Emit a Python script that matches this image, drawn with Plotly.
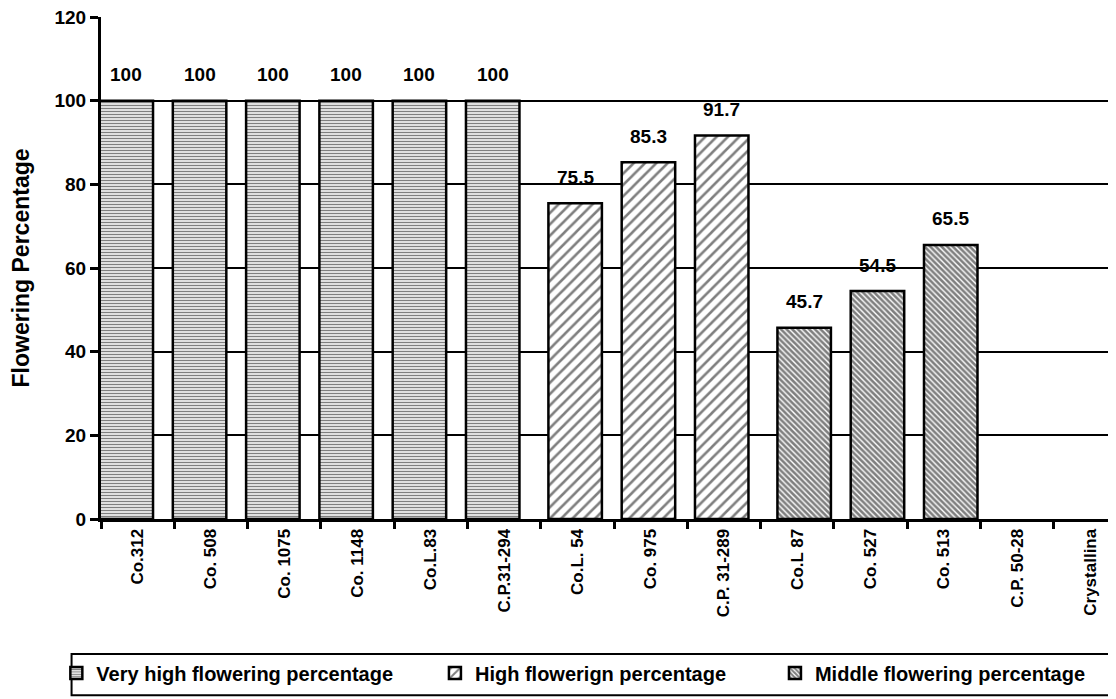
import plotly.graph_objects as go

# ---------------- data ----------------
categories = ["Co.312", "Co. 508", "Co. 1075", "Co. 1148", "Co.L.83", "C.P.31-294",
              "Co.L. 54", "Co. 975", "C.P. 31-289", "Co.L 87", "Co. 527", "Co. 513",
              "C.P. 50-28", "Crystallina"]

very_high = [100, 100, 100, 100, 100, 100, None, None, None, None, None, None, None, None]
high = [None, None, None, None, None, None, 75.5, 85.3, 91.7, None, None, None, None, None]
middle = [None, None, None, None, None, None, None, None, None, 45.7, 54.5, 65.5, None, None]

series_names = ["Very high flowering percentage", "High flowerign percentage",
                "Middle flowering percentage"]
y_ticks = [0, 20, 40, 60, 80, 100, 120]
grid_vals = [20, 40, 60, 80, 100]

# ---------------- style ----------------
FONT = "Liberation Sans, Arial, sans-serif"
series_vals = [very_high, high, middle]
offsets = [-0.52, -0.395, -0.27]
bar_w = 0.73
patterns = [
    dict(shape="-", size=3, solidity=0.5, fgcolor="black", bgcolor="white"),
    dict(shape="/", size=8, solidity=0.32, fgcolor="black", bgcolor="white"),
    dict(shape="\\", size=4, solidity=0.65, fgcolor="black", bgcolor="white"),
]
legend_keys = ["legend", "legend2", "legend3"]

fig = go.Figure()
for vals, name, off, pat, lk in zip(series_vals, series_names, offsets, patterns, legend_keys):
    fig.add_trace(go.Bar(
        x=categories, y=vals, name=name,
        offset=off, width=bar_w,
        marker=dict(color="white", pattern=pat, line=dict(color="black", width=2.5)),
        legend=lk,
    ))
    # value labels above bars
    for i, v in enumerate(vals):
        if v is None:
            continue
        fig.add_annotation(
            x=i + off + bar_w / 2, y=v, xref="x", yref="y",
            text=f"{v:g}", showarrow=False, yanchor="middle", yshift=26,
            font=dict(family=FONT, size=19, color="black", weight="bold"),
        )

leg_common = dict(orientation="h", yanchor="middle", xanchor="left",
                  bgcolor="rgba(0,0,0,0)", borderwidth=0,
                  font=dict(family=FONT, size=20, color="black", weight="bold"),
                  itemwidth=30)

fig.update_layout(
    width=1108, height=691,
    margin=dict(l=93, r=0, t=9, b=180),
    plot_bgcolor="white", paper_bgcolor="white",
    barmode="overlay",
    showlegend=True,
    legend=dict(x=-0.044, y=-0.307, **leg_common),
    legend2=dict(x=0.329, y=-0.307, **leg_common),
    legend3=dict(x=0.664, y=-0.307, **leg_common),
    xaxis=dict(
        type="category", range=[-0.5, 13.35],
        showline=True, linecolor="black", linewidth=3,
        ticks="outside", tickson="boundaries", ticklen=7, tickwidth=2.5, tickcolor="black",
        tickangle=-90, showgrid=False,
        tickfont=dict(family=FONT, size=17, color="black", weight="bold"),
    ),
    yaxis=dict(
        range=[0, 120], tickvals=y_ticks,
        showline=True, linecolor="black", linewidth=3,
        ticks="outside", ticklen=8, tickwidth=2.5, tickcolor="black",
        showgrid=False, zeroline=False, ticklabeloverflow="allow",
        minor=dict(tickvals=grid_vals, showgrid=True, gridcolor="black", gridwidth=2, ticks=""),
        tickfont=dict(family=FONT, size=19, color="black", weight="bold"),
        title=dict(text="Flowering Percentage", standoff=20,
                   font=dict(family=FONT, size=23, color="black", weight="bold")),
    ),
)

# legend frame
fig.add_shape(type="rect", xref="paper", yref="paper",
              x0=-0.029, x1=0.996, y0=-0.351, y1=-0.269,
              line=dict(color="black", width=2), fillcolor="rgba(0,0,0,0)")

fig.write_html("out.html")
